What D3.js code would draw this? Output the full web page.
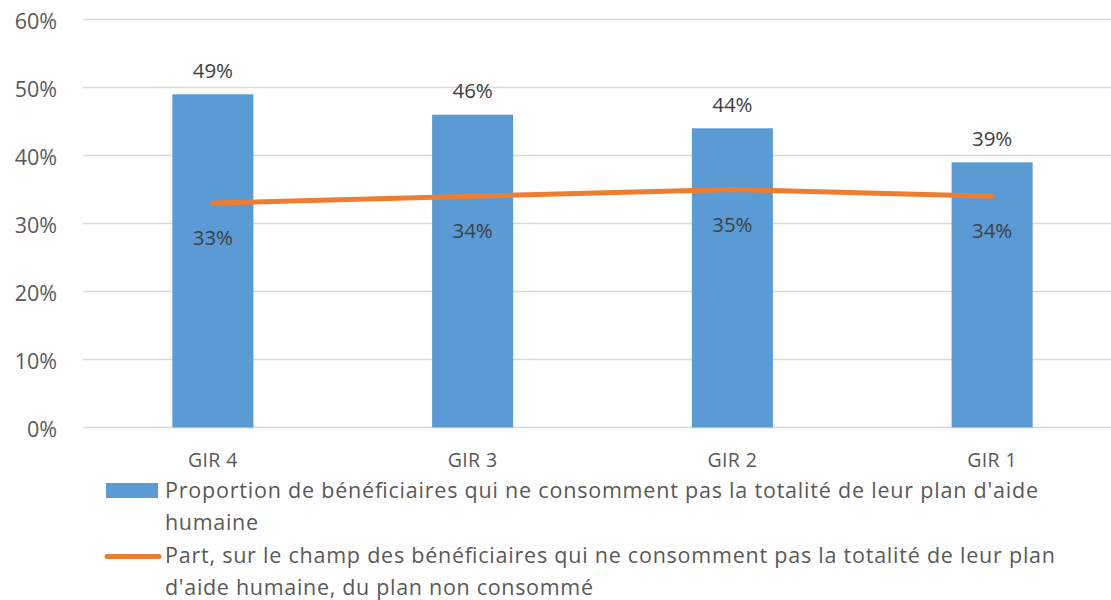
<!DOCTYPE html>
<html><head><meta charset="utf-8">
<script src="https://cdn.jsdelivr.net/npm/d3@7"></script>
<style>body{margin:0;background:#fff}svg{display:block}text{font-family:"Open Sans","Noto Sans",sans-serif;fill:#595959}</style>
</head><body>
<script>
const categories = ["GIR 4", "GIR 3", "GIR 2", "GIR 1"];
const barValues = [49, 46, 44, 39];
const lineValues = [33, 34, 35, 34];
const yTicks = [0, 10, 20, 30, 40, 50, 60];
const legendBar = ["Proportion de bénéficiaires qui ne consomment pas la totalité de leur plan d'aide", "humaine"];
const legendLine = ["Part, sur le champ des bénéficiaires qui ne consomment pas la totalité de leur plan", "d'aide humaine, du plan non consommé"];

const W = 1111, H = 600;
const FONT = "'Open Sans','Noto Sans',sans-serif";
const svg = d3.select("body").append("svg").attr("width", W).attr("height", H);
const x = d3.scaleBand().domain(categories).range([83, 1122]).paddingInner(0.688).paddingOuter(0.344);
const y = d3.scaleLinear().domain([0, 60]).range([427.5, 19.5]);
const cx = c => x(c) + x.bandwidth() / 2;

// gridlines
svg.append("g").selectAll("line").data(yTicks).join("line")
  .attr("x1", 83).attr("x2", 1122)
  .attr("y1", d => y(d)).attr("y2", d => y(d))
  .attr("stroke", "#d9d9d9").attr("stroke-width", 1.3);

// y axis labels
const yAxis = d3.axisLeft(y).tickValues(yTicks).tickFormat(d => d + "%").tickSize(0).tickPadding(0);
const ya = svg.append("g").attr("transform", "translate(57,0)").call(yAxis);
ya.select(".domain").remove();
ya.selectAll("text").style("font-size", "21.5px").style("font-family", FONT)
  .attr("fill", "#595959").attr("dy", null).attr("y", 8.5);

// bars
svg.append("g").selectAll("rect").data(barValues).join("rect")
  .attr("x", (d, i) => x(categories[i])).attr("width", x.bandwidth())
  .attr("y", d => y(d)).attr("height", d => y(0) - y(d))
  .attr("fill", "#5b9bd5");

// bar labels
svg.append("g").selectAll("text").data(barValues).join("text")
  .attr("x", (d, i) => cx(categories[i]))
  .attr("y", d => y(d) - 16.5)
  .attr("text-anchor", "middle").style("font-size", "20.5px").style("fill", "#404040").text(d => d + "%");

// x axis labels
const xAxis = d3.axisBottom(x).tickSize(0).tickPadding(0);
const xa = svg.append("g").attr("transform", "translate(0,427.5)").call(xAxis);
xa.select(".domain").remove();
xa.selectAll("text").style("font-size", "19.5px").style("font-family", FONT).style("letter-spacing", "0.4px")
  .attr("fill", "#595959").attr("y", 39.5).attr("dy", null);

// line
const line = d3.line().x((d, i) => cx(categories[i])).y(d => y(d));
svg.append("path").datum(lineValues).attr("d", line)
  .attr("fill", "none").attr("stroke", "#ed7d31").attr("stroke-width", 5)
  .attr("stroke-linecap", "round").attr("stroke-linejoin", "round");

// line labels
svg.append("g").selectAll("text").data(lineValues).join("text")
  .attr("x", (d, i) => cx(categories[i]))
  .attr("y", d => y(d) + 42)
  .attr("text-anchor", "middle").style("font-size", "20.5px").style("fill", "#404040").text(d => d + "%");

// legend
const legendWidths = [[873, 93], [890, 428]];
const lg = svg.append("g");
lg.append("rect").attr("x", 106).attr("y", 483).attr("width", 52).attr("height", 15).attr("fill", "#5b9bd5");
legendBar.forEach((t, i) => lg.append("text").attr("x", 165).attr("y", 498 + i * 32)
  .attr("textLength", legendWidths[0][i]).attr("lengthAdjust", "spacing")
  .style("font-size", "21.5px").text(t));
lg.append("line").attr("x1", 107).attr("x2", 159).attr("y1", 556.5).attr("y2", 556.5)
  .attr("stroke", "#ed7d31").attr("stroke-width", 5).attr("stroke-linecap", "round");
legendLine.forEach((t, i) => lg.append("text").attr("x", 165).attr("y", 563 + i * 32)
  .attr("textLength", legendWidths[1][i]).attr("lengthAdjust", "spacing")
  .style("font-size", "21.5px").text(t));
</script>
</body></html>
